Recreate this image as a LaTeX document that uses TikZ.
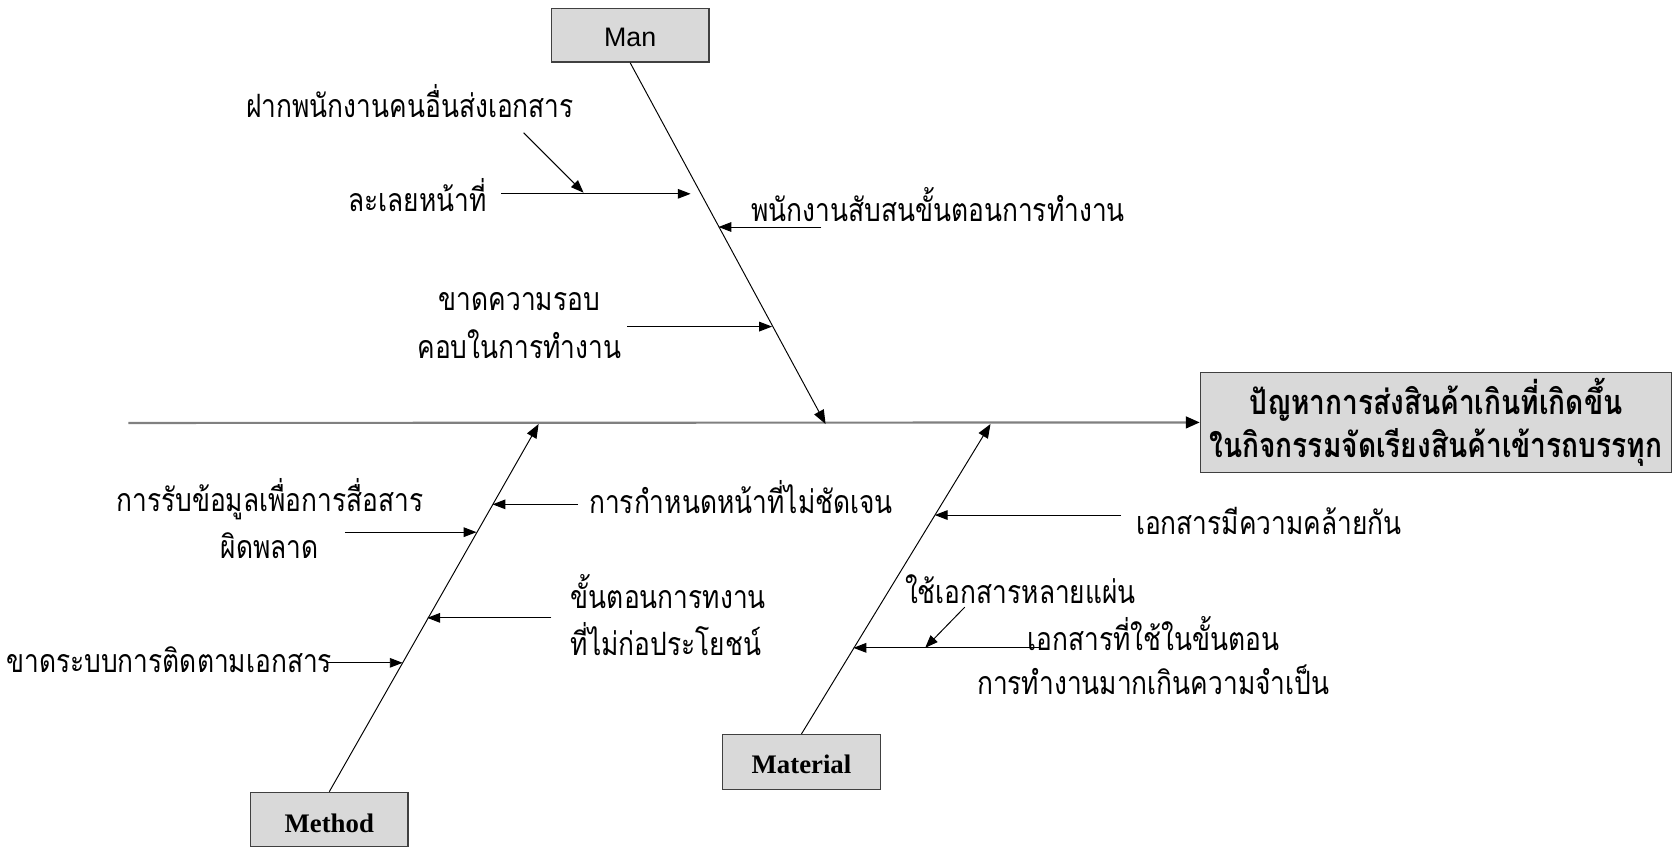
\documentclass[tikz,border=0pt]{standalone}
\usepackage{fontspec}
\setmainfont{Liberation Sans}
\newfontfamily\thaifont[Script=Thai,FakeStretch=0.82]{Loma}
\newfontfamily\timesfont{Liberation Serif}
\usetikzlibrary{arrows.meta}
\definecolor{boxfill}{HTML}{D9D9D9}
\definecolor{boxline}{HTML}{404040}
\definecolor{spinecol}{HTML}{808080}
\newcommand{\dn}[2]{\raisebox{-#1}[\height][\depth]{#2}}
\tikzset{
  catbox/.style={draw=boxline, fill=boxfill, line width=1.2pt, minimum width=147pt, minimum height=50pt, inner sep=0pt},
  lbl/.style={font=\thaifont\fontsize{30}{44}\selectfont, inner sep=0pt, align=center},
  bone/.style={draw=black, line width=0.9pt, -{Triangle[length=13pt,width=10pt]}},
  cause/.style={draw=black, line width=0.9pt, -{Triangle[length=12pt,width=9pt]}},
  spine/.style={draw=spinecol, line width=2pt, -{Triangle[length=13pt,width=11pt,color=black]}}
}
\begin{document}
\begin{tikzpicture}[x=1pt,y=-1pt]
\useasboundingbox (0,0) rectangle (1568,791);
% boxes
\node[catbox] (man) at (588.5,33) {\fontsize{25}{28}\selectfont\dn{2pt}{Man}};
\node[catbox, minimum height=51pt] (method) at (307.5,765.5) {\timesfont\bfseries\fontsize{25}{28}\selectfont\dn{3pt}{Method}};
\node[catbox, minimum height=51pt] (material) at (748.5,711.5) {\timesfont\bfseries\fontsize{25}{28}\selectfont\dn{2.5pt}{Material}};
\node[catbox, minimum width=440pt, minimum height=93pt, align=center, font=\thaifont\bfseries\fontsize{32}{40}\selectfont] (effect) at (1341,394.5) {ปัญหาการส่งสินค้าเกินที่เกิดขึ้น\\ในกิจกรรมจัดเรียงสินค้าเข้ารถบรรทุก};
% spine
\coordinate (spst) at (120,395);
\draw[spine] (spst) -- (effect.west);
% bones
\coordinate (mantip) at (771,396);
\coordinate (methtip) at (503,396);
\coordinate (mattip) at (925,396);
\draw[bone] (man.south) -- (mantip);
\draw[bone] (method.north) -- (methtip);
\draw[bone] (material.north) -- (mattip);
% Man causes
\node[lbl] (t1) at (383,94) {ฝากพนักงานคนอื่นส่งเอกสาร};
\node[lbl] (t2) at (390,182) {ละเลยหน้าที่};
\node[lbl] (t3) at (876,191) {พนักงานสับสนขั้นตอนการทำงาน};
\node[lbl] (t4) at (485,304) {ขาดความรอบ\\คอบในการทำงาน};
\coordinate (a1s) at (489,124); \coordinate (a1e) at (545,180);
\coordinate (a2s) at (468,181); \coordinate (a2e) at (645,181);
\coordinate (a3s) at (767,212); \coordinate (a3e) at (671,212);
\coordinate (a4s) at (586,305); \coordinate (a4e) at (721,305);
\draw[cause] (a1s) -- (a1e);
\draw[cause] (a2s) -- (a2e);
\draw[cause] (a3s) -- (a3e);
\draw[cause] (a4s) -- (a4e);
% Method causes
\node[lbl] (t5) at (252,484) {การรับข้อมูลเพื่อการสื่อสาร\\ผิดพลาด};
\node[lbl] (t6) at (692,464) {การกำหนดหน้าที่ไม่ชัดเจน};
\node[lbl, align=left, anchor=west] (t7) at (533,574) {ขั้นตอนการทงาน\\ที่ไม่ก่อประโยชน์};
\node[lbl] (t8) at (158,616) {ขาดระบบการติดตามเอกสาร};
\coordinate (b1s) at (322,497); \coordinate (b1e) at (445,497);
\coordinate (b2s) at (540,471); \coordinate (b2e) at (460,471);
\coordinate (b3s) at (515,577); \coordinate (b3e) at (399,577);
\coordinate (b4s) at (305,619); \coordinate (b4e) at (376,619);
\draw[cause] (b1s) -- (b1e);
\draw[cause] (b2s) -- (b2e);
\draw[cause] (b3s) -- (b3e);
\draw[cause] (b4s) -- (b4e);
% Material causes
\node[lbl] (t9) at (1185,487) {เอกสารมีความคล้ายกัน};
\node[lbl] (t10) at (953,550) {ใช้เอกสารหลายแผ่น};
\node[lbl, font=\thaifont\fontsize{30}{41}\selectfont] (t11) at (1077,612) {เอกสารที่ใช้ในขั้นตอน\\การทำงานมากเกินความจำเป็น};
\coordinate (c1s) at (1047,481); \coordinate (c1e) at (873,481);
\coordinate (c2s) at (901,567); \coordinate (c2e) at (864,605);
\coordinate (c3s) at (970,605); \coordinate (c3e) at (797,605);
\draw[cause] (c1s) -- (c1e);
\draw[cause] (c2s) -- (c2e);
\draw[cause] (c3s) -- (c3e);
\end{tikzpicture}
\end{document}
